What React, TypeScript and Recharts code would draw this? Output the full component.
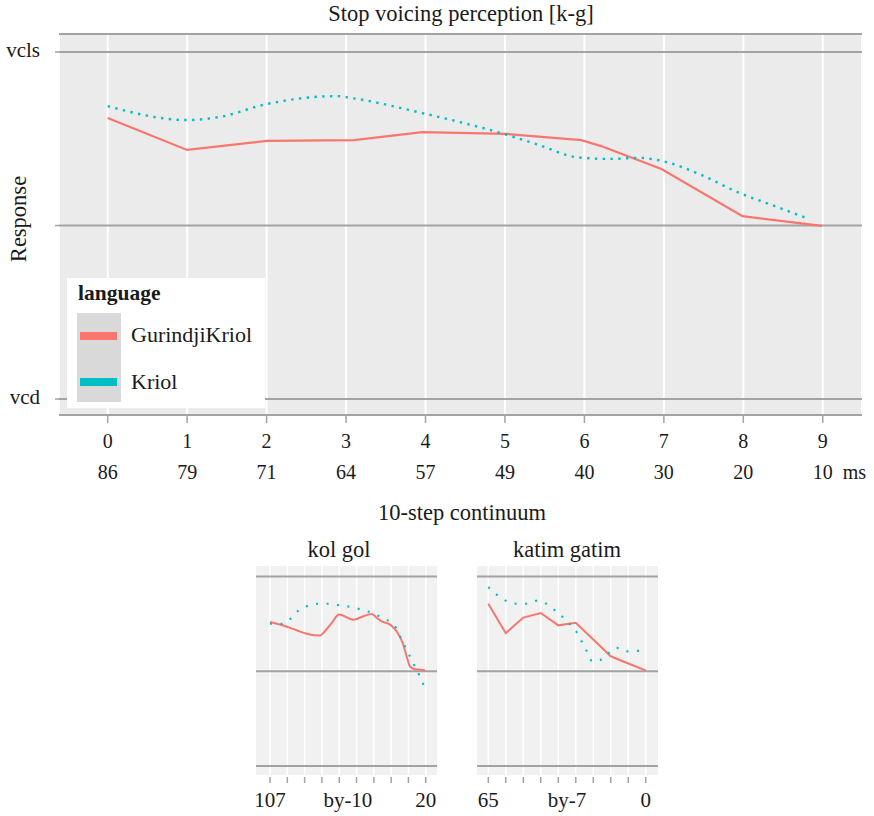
import React from "react";
import { LineChart, Line, XAxis, YAxis, CartesianGrid } from "recharts";

const RED = "#F8766D";
const CYAN = "#00BFC4";
const RULE = "#A3A3A3";
const INK = "#1A1A1A";
const FONT = "Liberation Serif, DejaVu Serif, Times New Roman, serif";

const LANGUAGES = ["GurindjiKriol", "Kriol"];
const STEPS = [0, 1, 2, 3, 4, 5, 6, 7, 8, 9];
const MS_LABELS = ["86", "79", "71", "64", "57", "49", "40", "30", "20", "10"];
const RESPONSE_TICKS = [0, 0.5, 1];
const RESPONSE_LABELS = ["vcd", "", "vcls"];

// main panel, [k-g]
const GK_STEP = [0, 1, 2, 3.1, 3.96, 5.02, 5.96, 6.21, 6.97, 7.99, 8.99];
const GK_RESP = [0.81, 0.718, 0.744, 0.746, 0.769, 0.764, 0.746, 0.729, 0.663, 0.527, 0.499];
const K_STEP = [0, 1.0, 1.41, 2.0, 2.88, 3.08, 3.96, 5.03, 5.43, 5.9, 6.31, 6.69, 7.03, 7.45, 7.95, 8.36, 8.79];
const K_RESP = [0.844, 0.804, 0.813, 0.85, 0.873, 0.867, 0.824, 0.761, 0.732, 0.697, 0.692, 0.695, 0.683, 0.648, 0.594, 0.559, 0.522];

// small panels
const LABEL_STEPS = [0, 4.5, 9];
const SMALL_TICKS = [0, 1, 2, 3, 4, 4.5, 5, 6, 7, 8, 9];

const KOL_LABELS = ["107", "by-10", "20"];
const KOL_GK_STEP = [0, 0.77, 1.54, 2.12, 2.89, 3.08, 3.57, 3.99, 4.24, 4.82, 5.4, 5.88, 6.17, 6.46, 6.94, 7.32, 7.67, 7.9, 8.09, 8.38, 8.77, 8.96];
const KOL_GK_RESP = [0.76, 0.741, 0.716, 0.698, 0.688, 0.702, 0.755, 0.799, 0.793, 0.772, 0.79, 0.802, 0.781, 0.763, 0.746, 0.71, 0.649, 0.578, 0.525, 0.511, 0.508, 0.504];
const KOL_K_STEP = [0, 0.67, 1.2, 1.64, 2.18, 2.79, 3.37, 3.99, 4.58, 5.2, 5.82, 6.36, 6.9, 7.32, 7.57, 7.86, 8.13, 8.4, 8.69, 8.92];
const KOL_K_RESP = [0.751, 0.75, 0.778, 0.82, 0.845, 0.856, 0.856, 0.848, 0.84, 0.827, 0.81, 0.788, 0.762, 0.723, 0.672, 0.619, 0.57, 0.52, 0.467, 0.416];

const KATIM_LABELS = ["65", "by-7", "0"];
const KATIM_GK_STEP = [0, 1, 2, 3, 4, 5, 6, 7, 8, 9];
const KATIM_GK_RESP = [0.856, 0.701, 0.783, 0.807, 0.742, 0.756, 0.667, 0.579, 0.541, 0.505];
const KATIM_K_STEP = [0, 0.48, 1.0, 1.59, 2.2, 2.78, 3.31, 3.81, 4.25, 4.69, 5.08, 5.37, 5.65, 5.94, 6.36, 6.8, 7.32, 7.89, 8.47, 9.0];
const KATIM_K_RESP = [0.944, 0.904, 0.872, 0.856, 0.856, 0.872, 0.856, 0.821, 0.786, 0.746, 0.702, 0.651, 0.602, 0.553, 0.558, 0.589, 0.624, 0.605, 0.607, 0.619];

const rows = (xs: number[], ys: number[]) => xs.map((x, i) => ({ x, y: ys[i] }));

function StepMsTick({ x, y, payload }: any) {
  const i = STEPS.indexOf(payload.value);
  const txt = { textAnchor: "middle" as const, fontSize: 20, fill: INK, style: { fontFamily: FONT } };
  return (
    <g>
      <text x={x} y={y + 23} {...txt}>{payload.value}</text>
      <text x={x} y={y + 54} {...txt}>{MS_LABELS[i]}</text>
      {i === STEPS.length - 1 && (
        <text x={x + 20} y={y + 54} {...txt} textAnchor="start">ms</text>
      )}
    </g>
  );
}

function ResponseTick({ x, y, payload }: any) {
  const label = RESPONSE_LABELS[RESPONSE_TICKS.indexOf(payload.value)];
  return (
    <text x={x} y={y} dy={5} textAnchor="end" fontSize={21} fill={INK} style={{ fontFamily: FONT }}>{label}</text>
  );
}

function ContinuumTick({ x, y, payload, labels }: any) {
  const v = payload.value;
  const li = LABEL_STEPS.indexOf(v);
  return (
    <g>
      {Number.isInteger(v) && <line x1={x} x2={x} y1={y + 2} y2={y + 8} stroke={RULE} strokeWidth={1.5} />}
      {li >= 0 && (
        <text x={x} y={y + 32} textAnchor="middle" fontSize={21} fill={INK} style={{ fontFamily: FONT }}>{labels[li]}</text>
      )}
    </g>
  );
}

function ContinuumPanel({ left, domain, gk, k, labels, gkCurve }: {
  left: number; domain: [number, number]; gk: { x: number; y: number }[]; k: { x: number; y: number }[]; labels: string[]; gkCurve: "linear" | "monotone";
}) {
  return (
    <div style={{ position: "absolute", left, top: 556 }}>
      <LineChart width={211} height={260} margin={{ top: 10, right: 10, left: 20, bottom: 5 }}>
        <CartesianGrid horizontal={false} verticalValues={STEPS} stroke="#FFFFFF" strokeWidth={1.5} fill="#F0F1F0" />
        <CartesianGrid vertical={false} horizontalValues={RESPONSE_TICKS} stroke={RULE} strokeWidth={2} />
        <XAxis dataKey="x" type="number" domain={domain} allowDataOverflow ticks={SMALL_TICKS} interval={0}
          height={36} axisLine={false} tickLine={false} tickSize={0} tickMargin={0}
          tick={(p: any) => <ContinuumTick {...p} labels={labels} />} />
        <YAxis type="number" domain={[-0.047, 1.055]} allowDataOverflow ticks={RESPONSE_TICKS} hide />
        <Line data={gk} dataKey="y" type={gkCurve} stroke={RED} strokeWidth={2} dot={false} isAnimationActive={false} />
        <Line data={k} dataKey="y" type="monotone" stroke={CYAN} strokeWidth={2.2} strokeDasharray="2 8.5" dot={false} isAnimationActive={false} />
      </LineChart>
    </div>
  );
}

export default function App() {
  const txt = { fontSize: 22.5, fill: INK, style: { fontFamily: FONT } };
  return (
    <div style={{ position: "absolute", left: 0, top: 0, width: 874, height: 816, background: "#fff", fontFamily: FONT }}>
      <div style={{ position: "absolute", left: 0, top: 0 }}>
        <LineChart width={874} height={500} margin={{ top: 34, right: 12, left: 9, bottom: 15 }}>
          <CartesianGrid horizontal={false} stroke="#FFFFFF" strokeWidth={2} fill="#EBEBEB" />
          <CartesianGrid vertical={false} stroke={RULE} strokeWidth={2} />
          <XAxis dataKey="x" type="number" domain={[-0.613, 9.494]} allowDataOverflow ticks={STEPS} interval={0}
            height={70} axisLine={false} tickSize={8} tickLine={{ stroke: RULE, strokeWidth: 1.5 }} tick={<StepMsTick />} />
          <YAxis type="number" domain={[-0.046, 1.052]} allowDataOverflow ticks={RESPONSE_TICKS} interval={0}
            width={50} axisLine={false} tickSize={4} tickMargin={15} tickLine={{ stroke: RULE, strokeWidth: 1.5 }} tick={<ResponseTick />} />
          <Line data={rows(GK_STEP, GK_RESP)} dataKey="y" name={LANGUAGES[0]} type="linear" stroke={RED} strokeWidth={2.2}
            dot={false} isAnimationActive={false} />
          <Line data={rows(K_STEP, K_RESP)} dataKey="y" name={LANGUAGES[1]} type="monotone" stroke={CYAN} strokeWidth={2.4}
            strokeDasharray="2.4 5.4" dot={false} isAnimationActive={false} />
        </LineChart>
      </div>

      <ContinuumPanel left={236} domain={[-0.81, 9.65]} gk={rows(KOL_GK_STEP, KOL_GK_RESP)} k={rows(KOL_K_STEP, KOL_K_RESP)} labels={KOL_LABELS} gkCurve="monotone" />
      <ContinuumPanel left={457} domain={[-0.646, 9.7]} gk={rows(KATIM_GK_STEP, KATIM_GK_RESP)} k={rows(KATIM_K_STEP, KATIM_K_RESP)} labels={KATIM_LABELS} gkCurve="linear" />

      <svg width={874} height={816} style={{ position: "absolute", left: 0, top: 0, pointerEvents: "none" }}>
        <text x={461} y={21} textAnchor="middle" {...txt}>Stop voicing perception [k-g]</text>
        <text transform="translate(26,219) rotate(-90)" textAnchor="middle" {...txt}>Response</text>
        <text x={462} y={520} textAnchor="middle" {...txt}>10-step continuum</text>
        <text x={339} y={557} textAnchor="middle" {...txt}>kol gol</text>
        <text x={567} y={557} textAnchor="middle" {...txt}>katim gatim</text>

        <rect x={67} y={278} width={198} height={130} fill="#FFFFFF" />
        <text x={78} y={300} fontWeight={700} {...txt} fontSize={21.5}>language</text>
        <rect x={77} y={313} width={44} height={89} fill="#D9D9D9" />
        <rect x={80} y={332} width={37} height={8} fill={RED} />
        <rect x={80} y={378} width={37} height={8} fill={CYAN} />
        <text x={131} y={342} {...txt} fontSize={22}>{LANGUAGES[0]}</text>
        <text x={131} y={389} {...txt} fontSize={22}>{LANGUAGES[1]}</text>
      </svg>
    </div>
  );
}
